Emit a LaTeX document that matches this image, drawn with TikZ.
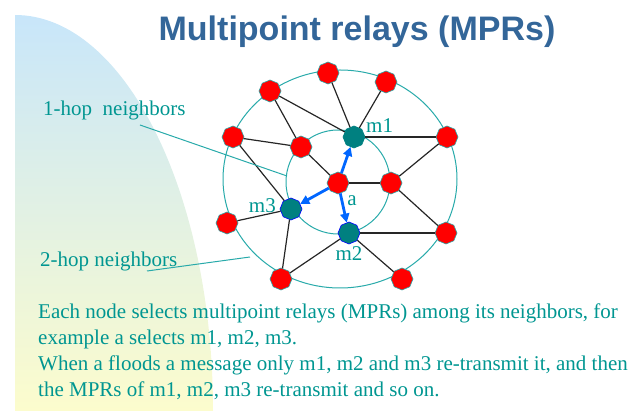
\documentclass[tikz,border=0pt]{standalone}
\usepackage{fontspec}
\setmainfont{Liberation Serif}
\setsansfont{Liberation Sans}
\usetikzlibrary{arrows.meta, shapes.geometric, positioning}

\definecolor{titleblue}{RGB}{51,102,153}
\definecolor{tealtext}{RGB}{0,150,145}
\definecolor{ringteal}{RGB}{40,170,170}
\definecolor{mprfill}{RGB}{0,128,128}
\definecolor{floodblue}{RGB}{0,102,255}
\definecolor{skyblue}{RGB}{200,230,250}
\definecolor{paleyellow}{RGB}{252,252,205}

\tikzset{
  relay/.style={regular polygon, regular polygon sides=8, shape border rotate=22.5,
    minimum size=22pt, inner sep=0pt, fill=red, draw=ringteal, line width=0.6pt},
  mpr/.style={relay, fill=mprfill, draw=blue},
  link/.style={line width=1.2pt, black!85},
  flood/.style={-{Triangle[length=9pt,width=9pt]}, line width=2.8pt, floodblue},
  ring/.style={draw=ringteal, line width=1pt},
  lead/.style={ringteal, line width=1pt},
  lbl/.style={text=tealtext, font=\fontsize{21}{25}\selectfont, inner sep=0pt},
}

\begin{document}
\begin{tikzpicture}[x=1pt, y=-1pt]
  \useasboundingbox (0,0) rectangle (638,411);
  % shaded corner
  \shade[top color=skyblue, bottom color=paleyellow] (15,15) .. controls (124,15) and (213,192) .. (213,411) -- (15,411) -- cycle;

  \node[font=\sffamily\bfseries\fontsize{34}{40}\selectfont, text=titleblue] (title) at (357,32) {Multipoint relays (MPRs)};

  % neighbourhood rings
  \draw[ring] (340,179) ellipse [x radius=117pt, y radius=109pt];
  \draw[ring] (338,182) circle [radius=52pt];

  \node[relay] (a) at (338,183) {};
  \node[mpr, draw=mprfill] (m1) at (354,137) {};
  \node[mpr] (m2) at (349,233) {};
  \node[mpr] (m3) at (291,209) {};
  \node[relay] (n1) at (328,73) {};
  \node[relay] (n2) at (386,82) {};
  \node[relay] (n3) at (270,91) {};
  \node[relay] (n4) at (233,137) {};
  \node[relay] (n5) at (447,137) {};
  \node[relay] (n6) at (301,147) {};
  \node[relay] (n7) at (391,183) {};
  \node[relay] (n8) at (227,223) {};
  \node[relay] (n9) at (446,233) {};
  \node[relay] (n10) at (281,279) {};
  \node[relay] (n11) at (402,279) {};

  \foreach \u/\v in {n1/m1, n2/m1, n3/m1, n3/n6, n4/n6, n4/m3, m1/n5, n6/a, a/n7, n7/n5,
    n7/n9, m2/n9, m3/n8, m3/n10, m2/n10, m2/n11}
    \draw[link] (\u) -- (\v);
  \foreach \t in {m1,m2,m3}
    \draw[flood] (a) -- (\t);

  \node[lbl, anchor=west] (m1lbl) at (366,126) {m1};
  \node[lbl] (m2lbl) at (349,254) {m2};
  \node[lbl, anchor=east] (m3lbl) at (276,206) {m3};
  \node[lbl] (albl) at (352,201) {a};

  % leader lines
  \node[lbl, anchor=west] (hop1) at (43,110) {1-hop\ \ neighbors};
  \node[lbl, anchor=west] (hop2) at (40,261) {2-hop neighbors};
  \coordinate (h1a) at (140,125);
  \coordinate (h1b) at (287,176);
  \coordinate (h2a) at (147,271);
  \coordinate (h2b) at (250,257);
  \draw[lead] (h1a) -- (h1b);
  \draw[lead] (h2a) -- (h2b);

  \node[lbl, anchor=north west, align=left, font=\fontsize{21}{26}\selectfont] (body) at (38,304)
    {Each node selects multipoint relays (MPRs) among its neighbors, for\\
     example a selects m1, m2, m3.\\
     When a floods a message only m1, m2 and m3 re-transmit it, and then\\
     the MPRs of m1, m2, m3 re-transmit and so on.};
\end{tikzpicture}
\end{document}
